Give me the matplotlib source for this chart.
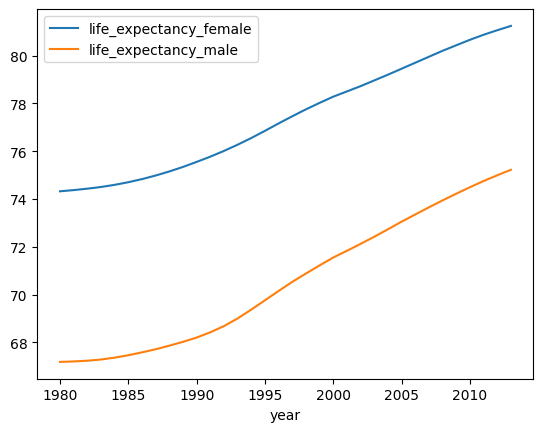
import matplotlib
matplotlib.use("Agg")
import matplotlib.pyplot as plt
import pandas as pd

years = list(range(1980, 2014))
life_expectancy_female = [
    74.32, 74.37, 74.43, 74.50, 74.59, 74.70, 74.83, 74.98, 75.15, 75.34,
    75.55, 75.77, 76.01, 76.27, 76.55, 76.85, 77.16, 77.46, 77.75, 78.02,
    78.28, 78.50, 78.72, 78.96, 79.20, 79.45, 79.70, 79.95, 80.20, 80.43,
    80.66, 80.87, 81.06, 81.24,
]
life_expectancy_male = [
    67.18, 67.20, 67.23, 67.28, 67.36, 67.46, 67.58, 67.71, 67.86, 68.02,
    68.20, 68.42, 68.68, 69.00, 69.37, 69.76, 70.15, 70.53, 70.88, 71.22,
    71.55, 71.83, 72.12, 72.42, 72.73, 73.05, 73.35, 73.65, 73.94, 74.22,
    74.49, 74.75, 74.99, 75.22,
]

df = pd.DataFrame({
    "year": years,
    "life_expectancy_female": life_expectancy_female,
    "life_expectancy_male": life_expectancy_male,
}).set_index("year")

fig, ax = plt.subplots(figsize=(6.4, 4.8), dpi=100)
df.plot(ax=ax)
fig.savefig("out.png", dpi=100, bbox_inches="tight")
